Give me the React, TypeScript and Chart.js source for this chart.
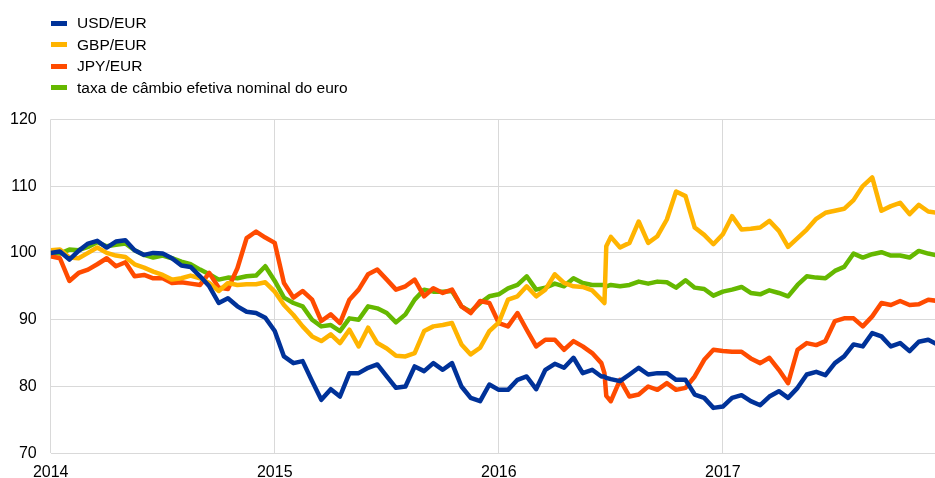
import React, { useEffect, useRef } from "react";
import { Chart, registerables } from "chart.js";

Chart.register(...registerables);

// Half-monthly observation dates (plus two around the June 2016 referendum)
const dates: string[] = [
  "2014-01-01","2014-01-16","2014-02-01","2014-02-16","2014-03-01","2014-03-16","2014-04-01","2014-04-16","2014-05-01","2014-05-16","2014-06-01","2014-06-16",
  "2014-07-01","2014-07-16","2014-08-01","2014-08-16","2014-09-01","2014-09-16","2014-10-01","2014-10-16","2014-11-01","2014-11-16","2014-12-01","2014-12-16",
  "2015-01-01","2015-01-16","2015-02-01","2015-02-16","2015-03-01","2015-03-16","2015-04-01","2015-04-16","2015-05-01","2015-05-16","2015-06-01","2015-06-16",
  "2015-07-01","2015-07-16","2015-08-01","2015-08-16","2015-09-01","2015-09-16","2015-10-01","2015-10-16","2015-11-01","2015-11-16","2015-12-01","2015-12-16",
  "2016-01-01","2016-01-16","2016-02-01","2016-02-16","2016-03-01","2016-03-16","2016-04-01","2016-04-16","2016-05-01","2016-05-16","2016-06-01","2016-06-16",
  "2016-06-21","2016-06-24",
  "2016-07-01","2016-07-16","2016-08-01","2016-08-16","2016-09-01","2016-09-16","2016-10-01","2016-10-16","2016-11-01","2016-11-16","2016-12-01","2016-12-16",
  "2017-01-01","2017-01-16","2017-02-01","2017-02-16","2017-03-01","2017-03-16","2017-04-01","2017-04-16","2017-05-01","2017-05-16","2017-06-01","2017-06-16",
  "2017-07-01","2017-07-16","2017-08-01","2017-08-16","2017-09-01","2017-09-16","2017-10-01","2017-10-16","2017-11-01","2017-11-16","2017-12-01","2017-12-16",
];

const usdEur: number[] = [
  100, 100.2, 99.0, 100.3, 101.4, 101.8, 100.8, 101.7, 101.9, 100.4, 99.7, 100, 99.9, 99.2, 98.1, 97.9, 96.5, 95, 92.5, 93.2, 92, 91.2, 91, 90.3,
  88.3, 84.5, 83.5, 83.8, 80.8, 78.0, 79.6, 78.5, 82, 82, 82.8, 83.3, 81.5, 79.8, 80, 83, 82.3, 83.5, 82.5, 83.5, 80, 78.3, 77.8, 80.3,
  79.5, 79.5, 81, 81.5, 79.6, 82.5, 83.4, 82.8, 84.3, 82, 82.5, 81.5,
  81.5, 81.3,
  81.1, 80.8, 81.8, 82.8, 81.8, 82, 82, 81, 81, 78.8, 78.3, 76.8,
  77, 78.3, 78.7, 77.8, 77.2, 78.5, 79.3, 78.3, 79.8, 81.8, 82.2, 81.7, 83.5, 84.5, 86.3, 86, 88, 87.5, 86, 86.5, 85.3, 86.7, 87, 86.3,
];

const gbpEur: number[] = [
  100.4, 100.5, 99.3, 99.2, 100, 100.8, 100, 99.6, 99.4, 98.3, 97.8, 97.2, 96.7, 96, 96.2, 96.6, 96.2, 95.5, 94.3, 95.5, 95.2, 95.3, 95.3, 95.6,
  94.2, 92.2, 90.7, 89, 87.5, 86.8, 87.8, 86.5, 88.5, 86, 88.8, 86.5, 85.7, 84.6, 84.5, 85, 88.3, 89, 89.2, 89.5, 86.3, 84.8, 85.8, 88.3,
  89.6, 93, 93.5, 95, 93.5, 94.5, 96.8, 95.5, 95, 94.9, 94.4, 93,
  92.5, 101,
  102.4, 100.8, 101.5, 104.7, 101.5, 102.5, 105, 109.2, 108.5, 103.8, 102.7, 101.3,
  102.8, 105.5, 103.5, 103.6, 103.8, 104.8, 103.3, 100.9, 102.2, 103.5, 105.1, 106, 106.3, 106.6, 107.9, 110, 111.3, 106.3, 107, 107.5, 105.8, 107.2, 106.2, 106,
];

const jpyEur: number[] = [
  99.5, 99.2, 95.8, 97, 97.5, 98.3, 99.2, 98, 98.6, 96.5, 96.7, 96.2, 96.2, 95.5, 95.6, 95.4, 95.2, 97, 94.8, 94.6, 97.7, 102.2, 103.2, 102.3,
  101.5, 95.5, 93.3, 94.3, 93, 89.8, 90.8, 89.5, 93, 94.5, 96.8, 97.5, 96, 94.5, 95, 96, 93.5, 94.7, 94, 94.5, 92, 91, 92.8, 92.5,
  89.5, 89, 91, 88.5, 86, 87, 87, 85.5, 86.8, 86, 85, 83.5,
  82, 78.6,
  77.8, 81, 78.5, 78.8, 80, 79.5, 80.5, 79.5, 79.8, 81.5, 84, 85.5,
  85.3, 85.2, 85.2, 84.2, 83.5, 84.3, 82.5, 80.5, 85.5, 86.5, 86.2, 86.8, 89.8, 90.2, 90.2, 89, 90.5, 92.5, 92.2, 92.8, 92.2, 92.3, 93, 92.8,
];

const effectiveRate: number[] = [
  100, 99.9, 100.5, 100.4, 100.9, 101.6, 101, 101.2, 101.4, 100.4, 99.7, 99.3, 99.6, 99.2, 98.7, 98.3, 97.5, 96.8, 96, 96.3, 96.2, 96.5, 96.6, 98,
  95.8, 93.3, 92.5, 92, 90, 89, 89.2, 88.3, 90.2, 90, 92, 91.7, 91, 89.6, 90.8, 93, 94.5, 94.2, 94.2, 94.3, 92, 91.2, 92.5, 93.5,
  93.8, 94.7, 95.2, 96.5, 94.5, 94.8, 95.4, 95, 96.2, 95.5, 95.2, 95.2,
  95.2, 95.0,
  95.2, 95, 95.2, 95.7, 95.4, 95.7, 95.6, 94.8, 95.9, 94.8, 94.6, 93.6,
  94.2, 94.5, 94.9, 94, 93.8, 94.4, 94, 93.5, 95.2, 96.5, 96.3, 96.2, 97.3, 97.9, 99.9, 99.3, 99.8, 100.1, 99.6, 99.6, 99.3, 100.3, 99.9, 99.6,
];

const seriesNames = ["USD/EUR", "GBP/EUR", "JPY/EUR", "taxa de câmbio efetiva nominal do euro"];
const seriesColors = ["#003299", "#FFB400", "#FF4B00", "#65B800"];
const seriesValues = [usdEur, gbpEur, jpyEur, effectiveRate];
const yearTicks = [2014, 2015, 2016, 2017];
const xEnd = "2017-12-12";

const FONT = "Arial, 'Liberation Sans', sans-serif";

function toYear(d: string): number {
  const [y, m, dd] = d.split("-").map(Number);
  return y + (m - 1) / 12 + (dd - 1) / 365;
}

export default function App() {
  const ref = useRef<HTMLCanvasElement | null>(null);

  useEffect(() => {
    document.body.style.margin = "0";
    const canvas = ref.current;
    if (!canvas) return;
    const xs = dates.map(toYear);
    const chart = new Chart(canvas, {
      type: "line",
      data: {
        datasets: seriesValues.map((vals, k) => ({
          label: seriesNames[k],
          data: vals.map((v, i) => ({ x: xs[i], y: v })),
          borderColor: seriesColors[k],
          backgroundColor: seriesColors[k],
          borderWidth: 4.5,
          pointRadius: 0,
          tension: 0,
          fill: false,
          borderJoinStyle: "round" as const,
        })),
      },
      options: {
        responsive: false,
        animation: false,
        devicePixelRatio: 1,
        layout: { padding: { top: 119.3, left: 0, right: 0, bottom: 0 } },
        plugins: { legend: { display: false }, tooltip: { enabled: false } },
        scales: {
          x: {
            type: "linear",
            min: 2014,
            max: toYear(xEnd),
            afterBuildTicks: (scale: any) => {
              scale.ticks = yearTicks.map((v) => ({ value: v }));
            },
            afterFit: (scale: any) => {
              scale.height = 24.7;
            },
            ticks: {
              includeBounds: false,
              autoSkip: false,
              maxRotation: 0,
              padding: 10,
              color: "#000",
              font: { family: FONT, size: 16 },
              callback: (v: any) => String(v),
            },
            grid: { color: "#d9d9d9", lineWidth: 1, drawTicks: false },
            border: { display: false },
          },
          y: {
            min: 70,
            max: 120,
            afterFit: (scale: any) => {
              scale.width = 50.7;
            },
            ticks: {
              stepSize: 10,
              padding: 14,
              color: "#000",
              font: { family: FONT, size: 16 },
            },
            grid: { color: "#d9d9d9", lineWidth: 1, drawTicks: false },
            border: { display: false },
          },
        },
      },
    });
    return () => chart.destroy();
  }, []);

  return (
    <div style={{ position: "absolute", left: 0, top: 0, width: 935, height: 478, background: "#fff" }}>
      <canvas ref={ref} width={935} height={478} style={{ position: "absolute", left: 0, top: 0, width: 935, height: 478 }} />
      <div style={{ position: "absolute", left: 51, top: 12.5, fontFamily: FONT, fontSize: 15.5, color: "#000" }}>
        {seriesNames.map((name, k) => (
          <div key={name} style={{ display: "flex", alignItems: "center", height: 21.5, whiteSpace: "nowrap" }}>
            <span style={{ display: "inline-block", width: 16, height: 5, background: seriesColors[k], marginRight: 10 }} />
            <span>{name}</span>
          </div>
        ))}
      </div>
    </div>
  );
}
